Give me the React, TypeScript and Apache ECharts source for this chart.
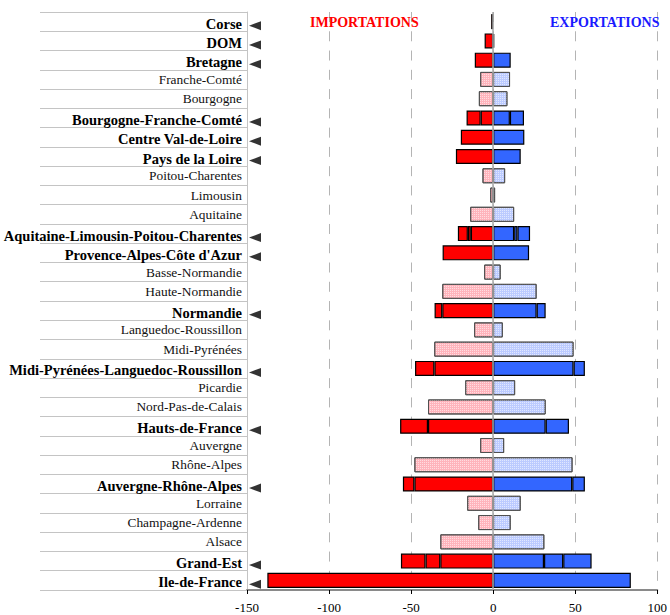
import React, { useEffect, useRef } from "react";
import * as echarts from "echarts";

const regions = [
  "Corse", "DOM", "Bretagne", "Franche-Comté", "Bourgogne", "Bourgogne-Franche-Comté",
  "Centre Val-de-Loire", "Pays de la Loire", "Poitou-Charentes", "Limousin", "Aquitaine",
  "Aquitaine-Limousin-Poitou-Charentes", "Provence-Alpes-Côte d'Azur", "Basse-Normandie",
  "Haute-Normandie", "Normandie", "Languedoc-Roussillon", "Midi-Pyrénées",
  "Midi-Pyrénées-Languedoc-Roussillon", "Picardie", "Nord-Pas-de-Calais", "Hauts-de-France",
  "Auvergne", "Rhône-Alpes", "Auvergne-Rhône-Alpes", "Lorraine", "Champagne-Ardenne",
  "Alsace", "Grand-Est", "Ile-de-France",
];

// 1 = new region (bold, solid colours), 0 = former region
const newRegion = [1, 1, 1, 0, 0, 1, 1, 1, 0, 0, 0, 1, 1, 0, 0, 1, 0, 0, 1, 0, 0, 1, 0, 0, 1, 0, 0, 0, 1, 1];

const importSeg1 = [-1.2, -5.2, -11.2, -7.9, -8.7, -7.6, -19.7, -22.7, -6.5, -1.8, -14, -13.6, -30.8, -5.5, -31, -31, -11.6, -35.9, -35.8, -17, -39.7, -39.7, -7.9, -48, -48, -15.8, -9.1, -32.2, -32.2, -137.6];
const importSeg2 = [null, null, null, null, null, -8.6, null, null, null, null, null, -1.8, null, null, null, -4.7, null, null, -11.8, null, null, -17, null, null, -7, null, null, null, -9, null];
const importSeg3 = [null, null, null, null, null, null, null, null, null, null, null, -6.1, null, null, null, null, null, null, null, null, null, null, null, null, null, null, null, null, -15, null];

const exportSeg1 = [null, 0.7, 10.7, 10.3, 8.7, 10.2, 19, 16.8, 7.3, 1.2, 12.8, 12.8, 21.9, 4.6, 26.5, 26.5, 5.9, 49, 49, 13.4, 32, 32, 6.7, 48.4, 48.2, 16.8, 10.7, 31.2, 31, 83.9];
const exportSeg2 = [null, null, null, null, null, 8.6, null, null, null, null, null, 2, null, null, null, 5.5, null, null, 6.9, null, null, 14.2, null, null, 7.7, null, null, null, 11.7, null];
const exportSeg3 = [null, null, null, null, null, null, null, null, null, null, null, 7.7, null, null, null, null, null, null, null, null, null, null, null, null, null, null, null, null, 17.3, null];

const xTicks = { min: -150, max: 100, interval: 50 };

const SERIF = "'Liberation Serif', 'Times New Roman', serif";

const dots = {
  symbol: "rect",
  symbolSize: 1,
  color: "rgba(255,255,255,0.55)",
  dashArrayX: [1, 1],
  dashArrayY: [1, 1],
  rotation: 0,
};

function itemStyleFor(i: number, side: "imp" | "exp") {
  const isNew = newRegion[i] === 1;
  if (side === "imp") {
    return isNew
      ? { color: "#ff0000", borderColor: "#000", borderWidth: 1.2 }
      : { color: "#ffb4bc", borderColor: "#505050", borderWidth: 1, decal: dots };
  }
  return isNew
    ? { color: "#3366ff", borderColor: "#000", borderWidth: 1.2 }
    : { color: "#bccbff", borderColor: "#505050", borderWidth: 1, decal: dots };
}

function toData(arr: (number | null)[], side: "imp" | "exp") {
  return arr.map((v, i) => (v === null ? "-" : { value: v, itemStyle: itemStyleFor(i, side) }));
}

export default function App() {
  const ref = useRef<HTMLDivElement>(null);
  useEffect(() => {
    if (!ref.current) return;
    const chart = echarts.init(ref.current, undefined, { renderer: "svg" });
    const barCommon = {
      type: "bar",
      stack: "total",
      barCategoryGap: "22%",
    };
    chart.setOption({
      animation: false,
      title: [
        {
          text: "IMPORTATIONS",
          left: 310,
          top: 15,
          padding: 0,
          textStyle: { color: "#ff0000", fontFamily: SERIF, fontWeight: "bold", fontSize: 14 },
        },
        {
          text: "EXPORTATIONS",
          left: 550,
          top: 15,
          padding: 0,
          textStyle: { color: "#1a1aff", fontFamily: SERIF, fontWeight: "bold", fontSize: 14 },
        },
      ],
      grid: { left: 247, right: 12, top: 12, bottom: 25 },
      xAxis: {
        type: "value",
        min: xTicks.min,
        max: xTicks.max,
        interval: xTicks.interval,
        axisLine: { show: true, onZero: false, lineStyle: { color: "#8a8a8a", width: 2 } },
        axisTick: { show: true, length: 4, lineStyle: { color: "#000" } },
        axisLabel: { fontFamily: SERIF, fontSize: 13, color: "#000", margin: 11 },
        splitLine: { show: true, lineStyle: { color: "#b4b4b4", type: [10, 9.27], width: 1 } },
      },
      yAxis: {
        type: "category",
        data: regions,
        inverse: true,
        axisLine: { show: true, onZero: false, lineStyle: { color: "#c4c4c4", width: 1 } },
        axisTick: { show: true, length: 207, lineStyle: { color: "#c4c4c4", width: 1.2 } },
        axisLabel: {
          margin: 5,
          formatter: (value: string, index: number) =>
            newRegion[index] === 1 ? `{b|${value}}` : `{n|${value}}`,
          rich: {
            b: { fontFamily: SERIF, fontWeight: "bold", fontSize: 14.5, color: "#000", padding: [4, 0, 0, 0] },
            n: { fontFamily: SERIF, fontSize: 13.4, color: "#111" },
          },
        },
      },
      series: [
        {
          ...barCommon,
          name: "imp1",
          data: toData(importSeg1, "imp"),
          markLine: {
            silent: true,
            symbol: ["none", "none"],
            label: { show: false },
            lineStyle: { color: "#a8a8a8", type: "solid", width: 1.5 },
            data: [{ xAxis: 0 }],
          },
        },
        { ...barCommon, name: "exp1", data: toData(exportSeg1, "exp") },
        { ...barCommon, name: "imp2", data: toData(importSeg2, "imp") },
        { ...barCommon, name: "exp2", data: toData(exportSeg2, "exp") },
        { ...barCommon, name: "imp3", data: toData(importSeg3, "imp") },
        { ...barCommon, name: "exp3", data: toData(exportSeg3, "exp") },
        {
          type: "scatter",
          name: "arrows",
          data: regions.filter((_, i) => newRegion[i] === 1).map((r) => [xTicks.min, r]),
          symbol: "triangle",
          symbolRotate: 90,
          symbolSize: [9, 12],
          symbolOffset: [8, 4],
          itemStyle: { color: "#000" },
          clip: false,
          z: 10,
        },
      ],
    });
    return () => chart.dispose();
  }, []);
  return <div ref={ref} style={{ position: "absolute", left: 0, top: 0, width: 670, height: 615 }} />;
}
